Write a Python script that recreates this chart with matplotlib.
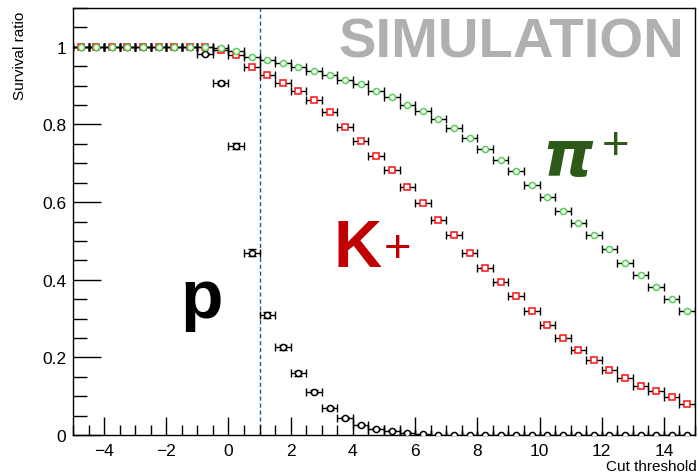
import numpy as np
import matplotlib
matplotlib.use("Agg")
import matplotlib.pyplot as plt
from matplotlib.ticker import MultipleLocator, FormatStrFormatter

# bin centres of the cut threshold histogram (width 0.5)
cut_bins = np.arange(-4.75, 15.0, 0.5)

# survival ratios
pion = [1.0, 1.0, 1.0, 1.0, 1.0, 1.0, 1.0, 1.0, 1.0, 0.998,
        0.990, 0.975, 0.966, 0.958, 0.949, 0.938, 0.927, 0.915, 0.904, 0.886,
        0.872, 0.851, 0.835, 0.814, 0.790, 0.765, 0.738, 0.709, 0.681, 0.644,
        0.613, 0.576, 0.545, 0.514, 0.480, 0.444, 0.413, 0.381, 0.350, 0.319]
kaon = [1.0, 1.0, 1.0, 1.0, 1.0, 1.0, 1.0, 1.0, 1.0, 0.993,
        0.978, 0.949, 0.927, 0.906, 0.886, 0.863, 0.831, 0.793, 0.758, 0.718,
        0.683, 0.638, 0.598, 0.554, 0.516, 0.470, 0.430, 0.394, 0.357, 0.319,
        0.284, 0.249, 0.219, 0.192, 0.167, 0.147, 0.126, 0.113, 0.097, 0.080]
proton = [1.0, 1.0, 1.0, 1.0, 1.0, 1.0, 1.0, 1.0, 0.982, 0.906,
          0.744, 0.469, 0.310, 0.226, 0.159, 0.112, 0.069, 0.043, 0.025, 0.016,
          0.011, 0.006, 0.003, 0.001, 0.0, 0.0, 0.0, 0.0, 0.0, 0.0,
          0.0, 0.0, 0.0, 0.0, 0.0, 0.0, 0.0, 0.0, 0.0, 0.0]
proton_err = [0, 0, 0, 0, 0, 0, 0, 0, 0.003, 0.005,
              0.008, 0.009, 0.008, 0.007, 0.006, 0.005, 0.004, 0.003, 0.002, 0.002,
              0.001, 0.001, 0, 0, 0, 0, 0, 0, 0, 0,
              0, 0, 0, 0, 0, 0, 0, 0, 0, 0]

cut_value = 1.0

plt.rcParams['font.family'] = ['Liberation Sans', 'DejaVu Sans']

fig = plt.figure(figsize=(6.99, 4.77), dpi=100)
ax = fig.add_axes([0.1044, 0.086, 0.8899, 0.895])

series = [
    (proton, proton_err, 'o', 'black'),
    (kaon, None, 's', '#ff1010'),
    (pion, None, 'o', '#55d055'),
]
for vals, err, mk, col in series:
    ax.errorbar(cut_bins, vals, xerr=0.25, yerr=err, fmt='none', ecolor='black',
                elinewidth=1.0, capsize=2.8, capthick=1.0, zorder=2)
    ax.plot(cut_bins, vals, mk, mfc='white', mec=col, ms=4.4, mew=1.1, zorder=3)

ax.axvline(cut_value, color='#1f5f8a', lw=1.0, ls=(0, (3, 2)), zorder=1)

ax.set_xlim(-5, 15)
ax.set_ylim(0, 1.1)
ax.xaxis.set_major_locator(MultipleLocator(2))
ax.xaxis.set_minor_locator(MultipleLocator(0.5))
ax.yaxis.set_major_locator(MultipleLocator(0.2))
ax.yaxis.set_minor_locator(MultipleLocator(0.05))
ax.yaxis.set_major_formatter(FormatStrFormatter('%g'))
ax.tick_params(which='both', direction='in', top=False, right=False, labelsize=12.5, width=1.0)
ax.tick_params(axis='x', which='major', length=13, pad=6)
ax.tick_params(axis='x', which='minor', length=7)
ax.tick_params(axis='y', which='major', length=20, pad=5)
ax.tick_params(axis='y', which='minor', length=10)
for s in ax.spines.values():
    s.set_linewidth(1.0)

fig.text(0.029, 0.975, 'Survival ratio', rotation=90, ha='center', va='top', fontsize=11)
fig.text(0.997, 0.022, 'Cut threshold', ha='right', va='center', fontsize=11)

ax.text(0.982, 0.92, 'SIMULATION', transform=ax.transAxes, ha='right', va='center',
        fontsize=40.5, fontweight='bold', color='#b0b0b0')
ax.text(-0.87, 0.35, 'p', ha='center', va='center', fontsize=50, fontweight='bold', color='black')
ax.text(4.15, 0.48, 'K', ha='center', va='center', fontsize=48, fontweight='bold', color='#c00000')
ax.text(5.45, 0.48, '+', ha='center', va='center', fontsize=34, color='#c00000')
ax.text(10.9, 0.715, '\u03c0', ha='center', va='center', fontsize=46, fontweight='bold',
        style='italic', color='#2d5a18', family='DejaVu Sans')
ax.text(12.45, 0.745, '+', ha='center', va='center', fontsize=34, color='#2d5a18')

fig.savefig('out.png', dpi=100)
